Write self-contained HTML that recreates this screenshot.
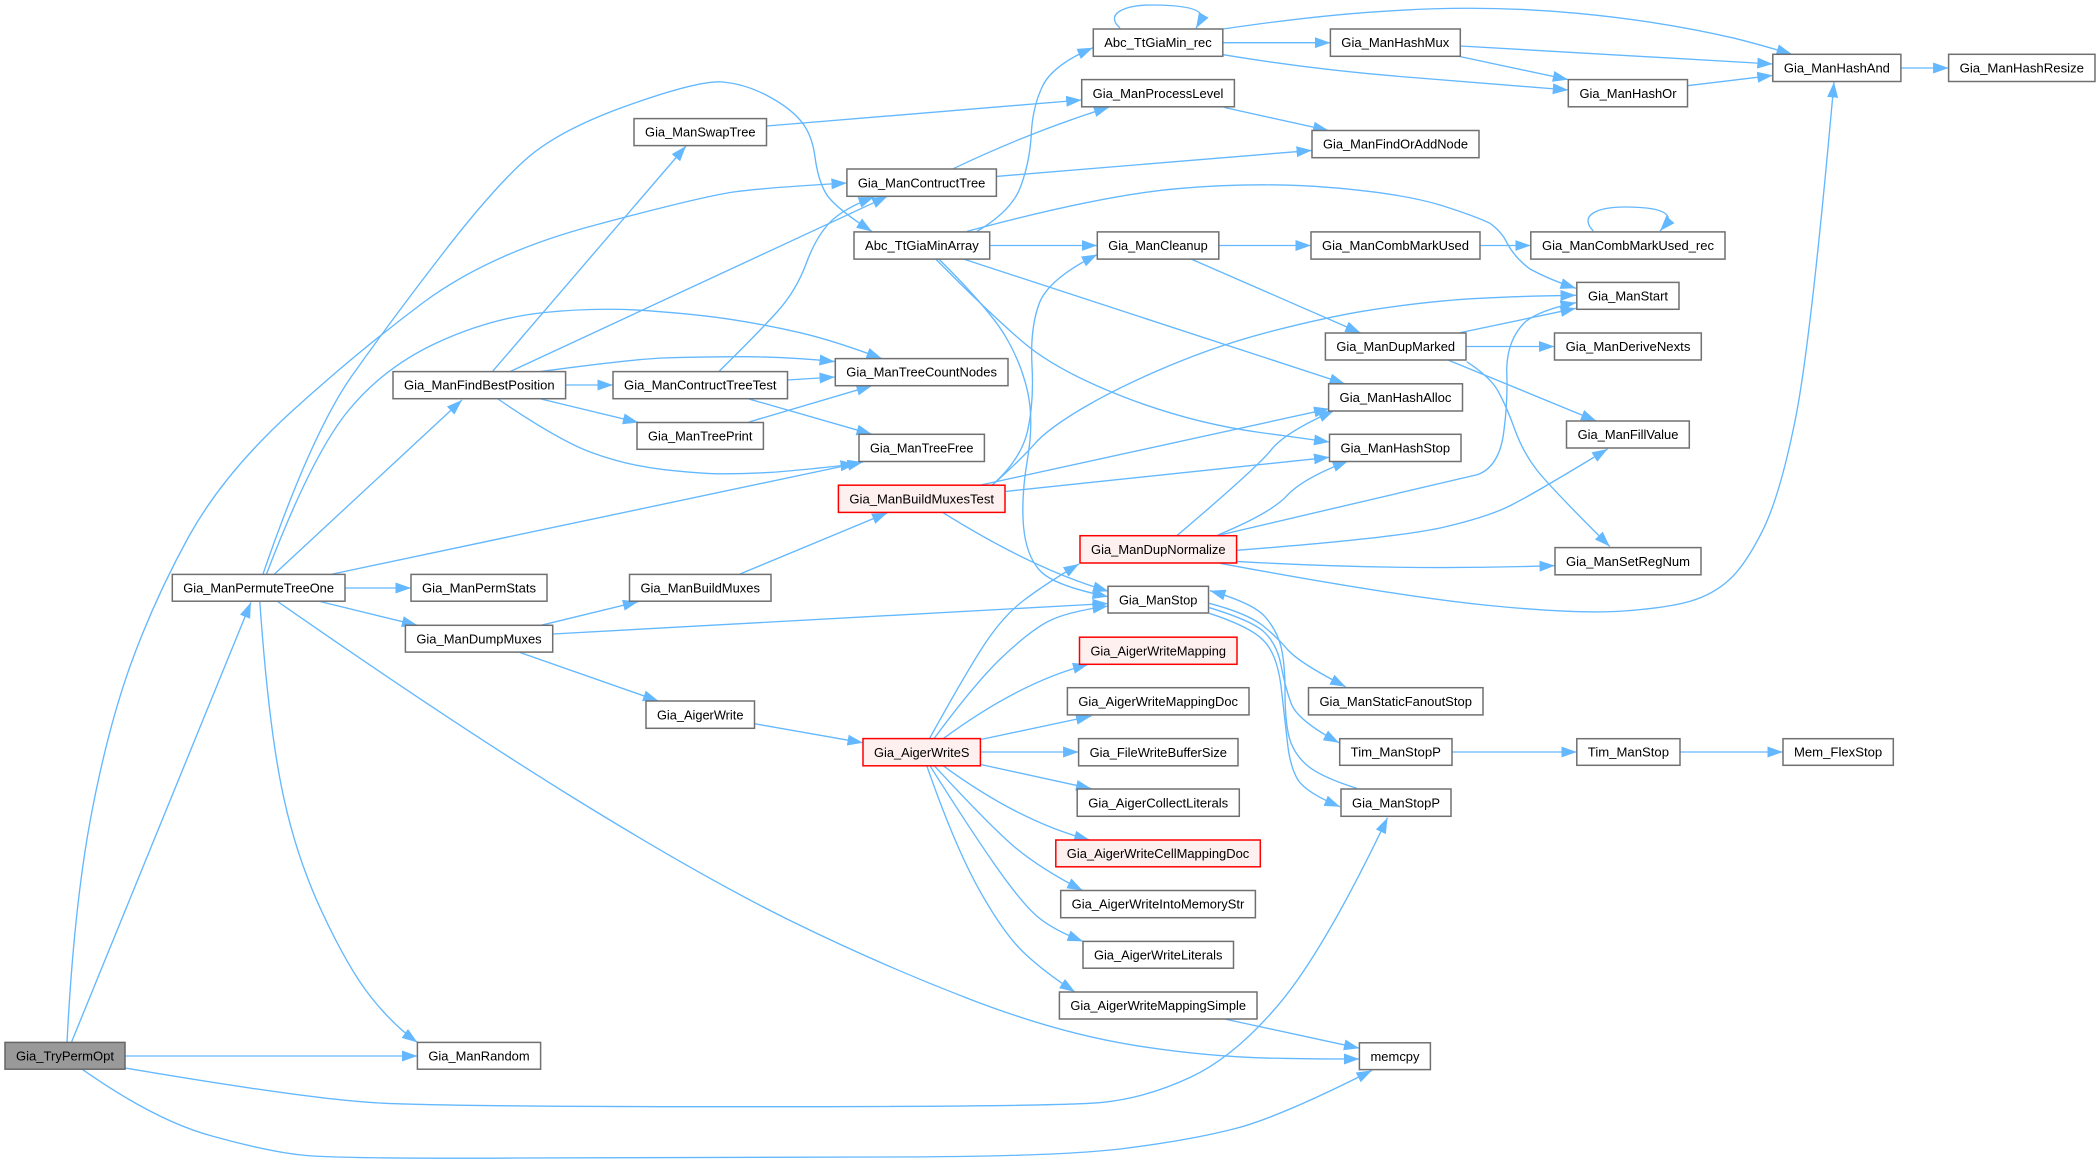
<!DOCTYPE html>
<html><head><meta charset="utf-8"><title>Call graph</title>
<style>
html,body{margin:0;padding:0;background:#fff;width:2098px;height:1166px;overflow:hidden}
svg{display:block}
text{font-family:"Liberation Sans",Arial,sans-serif;font-size:13.3px;fill:#000;text-anchor:middle}
.n rect{fill:#fff;stroke:#707070;stroke-width:1.5}
.r rect{fill:#fff0f0;stroke:#f00;stroke-width:1.5}
.g rect{fill:#999;stroke:#666;stroke-width:1.5}
.e path{fill:none;stroke:#63b8ff;stroke-width:1.35;marker-end:url(#a)}
</style></head><body>
<svg xmlns="http://www.w3.org/2000/svg" width="2098" height="1166" viewBox="0 0 2098 1166">
<defs><marker id="a" markerUnits="userSpaceOnUse" markerWidth="17" markerHeight="12" refX="15.5" refY="5.5" orient="auto"><path d="M0 0L15.5 5.5L0 11Z" fill="#63b8ff"/></marker></defs>
<g class="e">
<path d="M263 574Q312 432 352.5 375Q393 318 442 254.5Q491 191 524.5 160.5Q558 130 629 105Q700 80 722.5 82Q745 84 767 95.5Q789 107 800.5 120.5Q812 134 815 157Q818 180 826 193.5Q834 207 872 231.5"/>
<path d="M266.5 574Q312 455 348 411Q384 367 437.5 342.5Q491 318 544.5 312.5Q598 307 649 310.8Q700 314.5 733.5 319.8Q767 325 800.5 332.8Q834 340.6 882 358.6"/>
<path d="M274.5 574L462 400"/>
<path d="M332.6 574L863 462"/>
<path d="M345 588L411 588"/>
<path d="M320.5 601.6L417.4 625.3"/>
<path d="M259.8 601.6Q268 719 281.3 786Q294.6 853 321.3 910.5Q348 968 370.5 996.5Q393 1025 417.4 1042.4"/>
<path d="M277.7 601.6Q446.4 719 573 797.5Q700 876 789 920Q878.6 964 968 998.5Q1057 1033 1135 1045.4Q1213 1057.8 1286 1058.4Q1320 1059 1359.4 1059"/>
<path d="M492.4 371.6L686 146"/>
<path d="M510 371.6L887.5 196.3"/>
<path d="M540 371.6Q625 360 662 358Q700 356.7 745 356.7Q790 357 835 361.6"/>
<path d="M565.6 385L613 385"/>
<path d="M541 399L638.4 422.5"/>
<path d="M498 399Q558 440 591.5 452.5Q625 465 662.5 469.4Q700 473.8 722.5 473.8Q745 473.8 767 472.6Q789 471.5 856 464"/>
<path d="M718.8 371.6Q758 333 777 312Q796 291 806 264Q816 237 829.5 222.8Q843 208.6 874 197"/>
<path d="M787.5 380L835 377"/>
<path d="M749 399L872 434.3"/>
<path d="M749 422L872 385.7"/>
<path d="M766.5 126L1081.7 100"/>
<path d="M953 168.8Q1030 132 1109.4 107"/>
<path d="M996.4 176.4L1312 150.4"/>
<path d="M976.8 231.5Q1012.5 210.5 1021 185.6Q1030 160.7 1031.3 133.8Q1032.6 107 1042.6 86Q1052.7 65 1092.9 47.8"/>
<path d="M966.5 231.5Q1101.8 195 1180 188.4Q1258 181.8 1329 187.4Q1400 193 1440 205Q1475 216 1490 223.3Q1502 232 1507 243Q1515 258 1530 269Q1550 280 1576 288.3"/>
<path d="M989.7 245.5L1097.3 245.5"/>
<path d="M963.4 259L1345 383.8"/>
<path d="M935.7 259Q990 314 1023.5 342.5Q1057 371 1124 397Q1191 423 1260 432.5Q1300 438 1329.5 442"/>
<path d="M938.8 259Q990 310 1005.7 336.8Q1021.4 363.5 1027.7 392Q1034 421 1027.5 459Q1021 497.5 1023.5 526Q1026 555 1039.4 570Q1052.7 585.5 1108 596.6"/>
<path d="M1218.8 245.5L1311 245.5"/>
<path d="M1191 259L1360.7 333"/>
<path d="M1480 245.5L1530.8 245.5"/>
<path d="M1593.3 231C1578 215 1598 207 1625 207C1645 207 1665 209 1668 217Q1669 221 1660 231"/>
<path d="M1460.3 332.6L1576 308.3"/>
<path d="M1466 346.5L1554.5 346.5"/>
<path d="M1448 360L1596.4 421"/>
<path d="M1466.7 361.7Q1490 376.7 1498 391Q1506.7 406.7 1515 430Q1523.3 453 1538 471.5Q1553 490 1609.8 546.5"/>
<path d="M992.4 485Q1021.4 459 1034.7 443.8Q1048 428.6 1083.8 407.5Q1119.6 386.5 1169.8 365.5Q1220 344.4 1272.5 331Q1325 317.6 1362.5 311.3Q1400 305 1444.5 300.8Q1489 296.6 1576 295.3"/>
<path d="M992.4 485Q1021.4 459 1027.7 430.5Q1034 402 1032 365.5Q1030 329 1039 304Q1048 279 1097.3 254.5"/>
<path d="M981 485L1329.5 408.7"/>
<path d="M1005.8 491.4L1329.5 457.3"/>
<path d="M943.3 512.8Q1034.8 570 1108.5 591.2"/>
<path d="M740 574L887.5 512.8"/>
<path d="M541 625.3L638.4 601.6"/>
<path d="M552.7 634L1108 603.5"/>
<path d="M520 652.5L658.5 701"/>
<path d="M71.4 1042.4L250.9 602.4"/>
<path d="M67 1042.4Q73.7 910 90.3 820Q107 730.6 130.5 665Q154 600 188.5 537Q223 474.5 290 413Q357 352 424 302Q491 252.6 595.5 225Q700 197 733.5 192Q767 187.5 846.9 183"/>
<path d="M125 1056L417.4 1056"/>
<path d="M125 1068Q312.5 1099.8 379.5 1103Q446.4 1106.7 751 1106.7Q1057 1106.7 1101.7 1102.4Q1146.4 1098 1191 1077Q1235.7 1056 1280.4 1002.4Q1325 948.7 1387.5 817.8"/>
<path d="M82.6 1069.6Q156 1121 212 1136Q268 1151.5 301.5 1155Q335 1159 517 1158Q700 1157 878 1157Q1057 1157 1124 1148.5Q1191 1140 1235.5 1128.5Q1280 1117 1372 1070.4"/>
<path d="M754.5 723.7L863 742.8"/>
<path d="M929.5 738.6Q968 669 985.8 642.4Q1003.6 615.7 1023.7 600.4Q1043.8 585 1079 564"/>
<path d="M934 738.6Q976.8 680.8 1003.4 656Q1030 631 1048 621.5Q1066 612 1108 606"/>
<path d="M943.3 738.6Q1020 682 1088.4 664.4"/>
<path d="M981.3 739.4L1091.5 716"/>
<path d="M980.4 752L1078.6 752"/>
<path d="M981.3 764.6L1091.5 788.7"/>
<path d="M943.3 765.8Q1020 822 1089.7 840"/>
<path d="M934.4 765.8Q990 826 1014.6 847Q1039.3 868 1082.6 890.5"/>
<path d="M930 765.8Q967.9 826 994.6 864.4Q1021.4 902.8 1037 916.2Q1052.7 929.6 1083 941.4"/>
<path d="M926.8 765.8Q954.5 845.4 979 889.4Q1003.6 933.4 1023.7 952.5Q1043.8 971.7 1075 992"/>
<path d="M1224.5 1019L1359.4 1048.2"/>
<path d="M1209.3 603.3Q1246.7 613.3 1262 625Q1276.7 636.7 1288 650Q1300 663.3 1345.7 686.7"/>
<path d="M1209.3 607.7Q1250 620 1263 631Q1276.7 643 1281 665Q1285 686.7 1291 703Q1296.7 720 1339 742.7"/>
<path d="M1209.3 613.3Q1250 626.7 1263 640Q1276.7 653 1281 686Q1285 720 1287.5 743Q1290 766.7 1298 780Q1306.7 793 1340 806.7"/>
<path d="M1356.7 788.3Q1320 776.7 1306.7 765Q1293.3 753.3 1289 736.7Q1285 720 1285 691.7Q1285 663.3 1281 646.7Q1276.7 630 1265 616.7Q1253.3 603.3 1210 590.7"/>
<path d="M1176.8 535.7Q1258 466.9 1271.4 449.6Q1284.8 432.4 1334 410.6"/>
<path d="M1217.9 535Q1271.4 512.8 1287 495.6Q1302.7 478.4 1348.2 461"/>
<path d="M1220 535L1478 474.5Q1500 466 1504 430Q1508 400 1506.7 370Q1507 340 1525 322Q1540 310 1576 302.7"/>
<path d="M1236.6 550.3Q1400 537.7 1444.5 527Q1489 516.6 1511.5 505Q1534 493.7 1607.6 449"/>
<path d="M1236.6 561.4Q1400 571 1555 565.6"/>
<path d="M1220 563.3Q1400 596.7 1489.5 605.5Q1579 614.3 1623.8 611Q1668.6 607.7 1691 601Q1713.3 594.3 1729 580Q1744.7 566 1762 531.8Q1779.5 497.5 1795 421Q1810.7 344.4 1834 82"/>
<path d="M1120 28C1104 14 1125 5 1150 5C1175 5 1198 7 1201 15Q1202 18 1196 28.3"/>
<path d="M1222.8 42.7L1330.4 42.7"/>
<path d="M1223 29Q1325 14 1400 10.3Q1489 5 1578.6 13.4Q1660 21 1734.8 38.3Q1765 46 1792 54.3"/>
<path d="M1223 54.7Q1310 69 1400 76.5Q1480 83 1568.3 90"/>
<path d="M1460.3 46L1772.8 64"/>
<path d="M1460.3 56.6L1568.3 79.6"/>
<path d="M1687.5 85.7L1772.8 75.4"/>
<path d="M1900.9 68L1948.6 68"/>
<path d="M1224.5 107.5L1328.6 130.5"/>
<path d="M1452 752L1576.8 752"/>
<path d="M1680 752L1783 752"/>
</g>
<g class="n">
<rect x="1093.3" y="29" width="129.5" height="27.3"/><text x="1158" y="47" textLength="107.5" lengthAdjust="spacingAndGlyphs">Abc_TtGiaMin_rec</text>
<rect x="1081.7" y="79.6" width="152.7" height="27.2"/><text x="1158" y="97.8" textLength="130.7" lengthAdjust="spacingAndGlyphs">Gia_ManProcessLevel</text>
<rect x="1330.4" y="29" width="129.9" height="27.3"/><text x="1395.3" y="47" textLength="108" lengthAdjust="spacingAndGlyphs">Gia_ManHashMux</text>
<rect x="1568.3" y="79.6" width="119.2" height="27.2"/><text x="1628" y="97.8" textLength="97" lengthAdjust="spacingAndGlyphs">Gia_ManHashOr</text>
<rect x="1772.8" y="54.3" width="128.1" height="27.2"/><text x="1836.9" y="72.5" textLength="106" lengthAdjust="spacingAndGlyphs">Gia_ManHashAnd</text>
<rect x="1948.6" y="54.3" width="146.4" height="27.2"/><text x="2021.8" y="72.5" textLength="124.4" lengthAdjust="spacingAndGlyphs">Gia_ManHashResize</text>
<rect x="1312" y="130.5" width="167" height="27.2"/><text x="1395.5" y="148.7" textLength="145" lengthAdjust="spacingAndGlyphs">Gia_ManFindOrAddNode</text>
<rect x="634" y="118.6" width="132.5" height="27"/><text x="700.3" y="136.7" textLength="110.5" lengthAdjust="spacingAndGlyphs">Gia_ManSwapTree</text>
<rect x="846.9" y="169" width="149.5" height="27.3"/><text x="921.6" y="187.3" textLength="127.5" lengthAdjust="spacingAndGlyphs">Gia_ManContructTree</text>
<rect x="854" y="231.9" width="135.7" height="27.2"/><text x="921.9" y="250" textLength="113.7" lengthAdjust="spacingAndGlyphs">Abc_TtGiaMinArray</text>
<rect x="1097.3" y="231.9" width="121.5" height="27.2"/><text x="1158" y="250" textLength="99.5" lengthAdjust="spacingAndGlyphs">Gia_ManCleanup</text>
<rect x="1311" y="231.9" width="169" height="27.2"/><text x="1395.5" y="250" textLength="147" lengthAdjust="spacingAndGlyphs">Gia_ManCombMarkUsed</text>
<rect x="1530.8" y="231.9" width="194.2" height="27.2"/><text x="1628" y="250" textLength="172" lengthAdjust="spacingAndGlyphs">Gia_ManCombMarkUsed_rec</text>
<rect x="1576.8" y="282.4" width="102.2" height="26.9"/><text x="1628" y="300.5" textLength="80" lengthAdjust="spacingAndGlyphs">Gia_ManStart</text>
<rect x="1325.4" y="333" width="140.6" height="27"/><text x="1395.7" y="351" textLength="118.6" lengthAdjust="spacingAndGlyphs">Gia_ManDupMarked</text>
<rect x="1554.5" y="333" width="146.8" height="27"/><text x="1628" y="351" textLength="124.8" lengthAdjust="spacingAndGlyphs">Gia_ManDeriveNexts</text>
<rect x="1328.6" y="383.8" width="133.9" height="27.2"/><text x="1395.5" y="402" textLength="111.9" lengthAdjust="spacingAndGlyphs">Gia_ManHashAlloc</text>
<rect x="1566.5" y="421" width="122.8" height="27"/><text x="1628" y="439" textLength="100.8" lengthAdjust="spacingAndGlyphs">Gia_ManFillValue</text>
<rect x="1329.5" y="434.3" width="131.5" height="27.2"/><text x="1395.3" y="452.5" textLength="109.5" lengthAdjust="spacingAndGlyphs">Gia_ManHashStop</text>
<rect x="1555" y="547.6" width="146" height="27.2"/><text x="1628" y="565.8" textLength="124" lengthAdjust="spacingAndGlyphs">Gia_ManSetRegNum</text>
<rect x="393" y="371.6" width="172.6" height="27.1"/><text x="479.3" y="389.7" textLength="150.6" lengthAdjust="spacingAndGlyphs">Gia_ManFindBestPosition</text>
<rect x="613" y="371.6" width="174.5" height="27.1"/><text x="700.3" y="389.7" textLength="152.5" lengthAdjust="spacingAndGlyphs">Gia_ManContructTreeTest</text>
<rect x="835.3" y="358.6" width="172.7" height="27.1"/><text x="921.6" y="376.7" textLength="150.7" lengthAdjust="spacingAndGlyphs">Gia_ManTreeCountNodes</text>
<rect x="637" y="422.5" width="126.4" height="26.8"/><text x="700.2" y="440.5" textLength="104.4" lengthAdjust="spacingAndGlyphs">Gia_ManTreePrint</text>
<rect x="859" y="434.3" width="125.4" height="27.2"/><text x="921.7" y="452.5" textLength="103.4" lengthAdjust="spacingAndGlyphs">Gia_ManTreeFree</text>
<rect x="172.3" y="574.4" width="172.7" height="26.8"/><text x="258.6" y="592.4" textLength="150.7" lengthAdjust="spacingAndGlyphs">Gia_ManPermuteTreeOne</text>
<rect x="411" y="574.4" width="136" height="26.8"/><text x="479" y="592.4" textLength="114" lengthAdjust="spacingAndGlyphs">Gia_ManPermStats</text>
<rect x="629.5" y="574.4" width="141.5" height="26.8"/><text x="700.2" y="592.4" textLength="119.5" lengthAdjust="spacingAndGlyphs">Gia_ManBuildMuxes</text>
<rect x="405.4" y="625.3" width="147.3" height="26.8"/><text x="479" y="643.3" textLength="125.3" lengthAdjust="spacingAndGlyphs">Gia_ManDumpMuxes</text>
<rect x="1108" y="586.3" width="100.5" height="26.7"/><text x="1158.2" y="604.3" textLength="78.5" lengthAdjust="spacingAndGlyphs">Gia_ManStop</text>
<rect x="1067.4" y="687.7" width="181.6" height="27.2"/><text x="1158.2" y="705.9" textLength="159.6" lengthAdjust="spacingAndGlyphs">Gia_AigerWriteMappingDoc</text>
<rect x="1308.5" y="687.7" width="174.5" height="27.2"/><text x="1395.7" y="705.9" textLength="152.5" lengthAdjust="spacingAndGlyphs">Gia_ManStaticFanoutStop</text>
<rect x="646" y="701" width="108.5" height="27.3"/><text x="700.2" y="719.3" textLength="86.5" lengthAdjust="spacingAndGlyphs">Gia_AigerWrite</text>
<rect x="1078.6" y="738.6" width="159.4" height="27.2"/><text x="1158.3" y="756.8" textLength="137.4" lengthAdjust="spacingAndGlyphs">Gia_FileWriteBufferSize</text>
<rect x="1339.7" y="738.7" width="112.3" height="26.6"/><text x="1395.8" y="756.7" textLength="90.3" lengthAdjust="spacingAndGlyphs">Tim_ManStopP</text>
<rect x="1576.8" y="738.7" width="103.2" height="26.6"/><text x="1628.4" y="756.7" textLength="81.2" lengthAdjust="spacingAndGlyphs">Tim_ManStop</text>
<rect x="1783" y="738.7" width="110.3" height="26.6"/><text x="1838.1" y="756.7" textLength="88.3" lengthAdjust="spacingAndGlyphs">Mem_FlexStop</text>
<rect x="1341" y="789" width="110" height="27.3"/><text x="1396" y="807.3" textLength="88" lengthAdjust="spacingAndGlyphs">Gia_ManStopP</text>
<rect x="1077.2" y="789" width="162.1" height="27.3"/><text x="1158.2" y="807.3" textLength="140" lengthAdjust="spacingAndGlyphs">Gia_AigerCollectLiterals</text>
<rect x="1060.7" y="890.5" width="194.7" height="27.2"/><text x="1158" y="908.7" textLength="172.7" lengthAdjust="spacingAndGlyphs">Gia_AigerWriteIntoMemoryStr</text>
<rect x="1083" y="941.4" width="150.5" height="26.8"/><text x="1158.2" y="959.4" textLength="128.5" lengthAdjust="spacingAndGlyphs">Gia_AigerWriteLiterals</text>
<rect x="1059.4" y="992" width="197.6" height="27"/><text x="1158.2" y="1010" textLength="175.6" lengthAdjust="spacingAndGlyphs">Gia_AigerWriteMappingSimple</text>
<rect x="1359.4" y="1042.8" width="71" height="26.8"/><text x="1395" y="1060.8" textLength="49" lengthAdjust="spacingAndGlyphs">memcpy</text>
<rect x="417.4" y="1042.4" width="123.2" height="26.8"/><text x="479" y="1060.4" textLength="101.2" lengthAdjust="spacingAndGlyphs">Gia_ManRandom</text>
</g>
<g class="r">
<rect x="838.4" y="485.2" width="166.6" height="27.2"/><text x="921.7" y="503.4" textLength="144.6" lengthAdjust="spacingAndGlyphs">Gia_ManBuildMuxesTest</text>
<rect x="1080" y="535.7" width="156.6" height="27.3"/><text x="1158.3" y="554" textLength="134.6" lengthAdjust="spacingAndGlyphs">Gia_ManDupNormalize</text>
<rect x="1079.5" y="637.2" width="157.5" height="27.1"/><text x="1158.2" y="655.3" textLength="135.5" lengthAdjust="spacingAndGlyphs">Gia_AigerWriteMapping</text>
<rect x="863" y="738.6" width="117.4" height="27.2"/><text x="921.7" y="756.8" textLength="95.4" lengthAdjust="spacingAndGlyphs">Gia_AigerWriteS</text>
<rect x="1055.8" y="840" width="204.5" height="26.8"/><text x="1158" y="858" textLength="182.5" lengthAdjust="spacingAndGlyphs">Gia_AigerWriteCellMappingDoc</text>
</g>
<g class="g">
<rect x="5" y="1042.4" width="120" height="26.8"/><text x="65" y="1060.4" textLength="98" lengthAdjust="spacingAndGlyphs">Gia_TryPermOpt</text>
</g>
</svg>
</body></html>
